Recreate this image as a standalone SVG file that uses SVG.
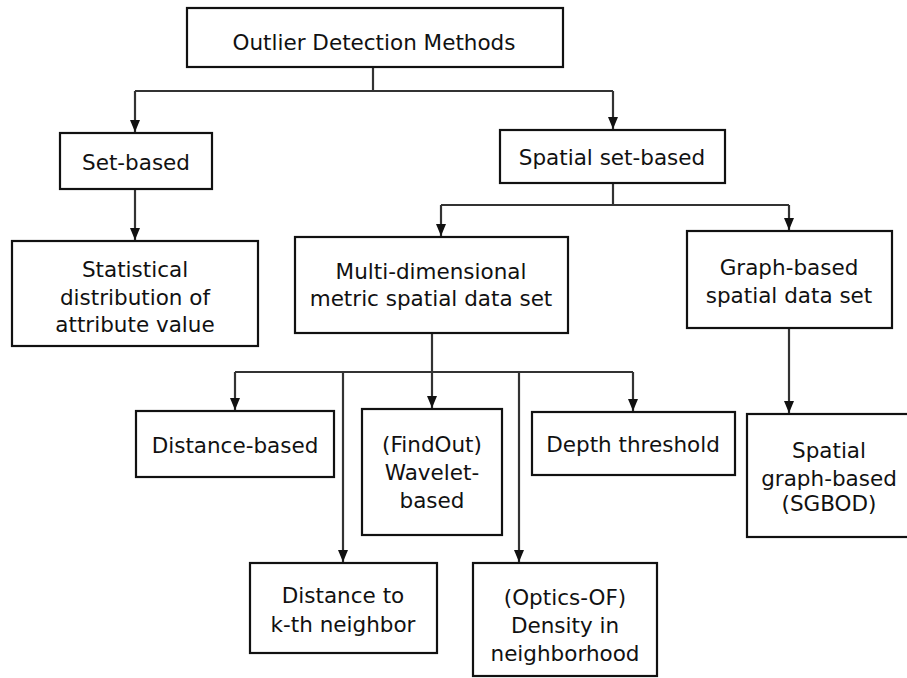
<svg xmlns="http://www.w3.org/2000/svg" width="907" height="678" viewBox="0 0 907 678">
<style>
.box{fill:#fff;stroke:#111;stroke-width:2.2}
.t{font-family:"DejaVu Sans",Verdana,sans-serif;font-size:21.5px;fill:#111;text-anchor:middle}
.c{fill:none;stroke:#333;stroke-width:2.2}
</style>
<defs>
<marker id="ah" viewBox="0 0 12 10" refX="12" refY="5" markerWidth="12" markerHeight="10" markerUnits="userSpaceOnUse" orient="auto">
<path d="M0,0 L12,5 L0,10 Z" fill="#111"/>
</marker>
</defs>
<rect width="907" height="678" fill="#fff"/>
<g id="connectors">
<path class="c" d="M373,67 V91"/>
<path class="c" d="M135,91 H613"/>
<path class="c" d="M135,91 V132" marker-end="url(#ah)"/>
<path class="c" d="M613,91 V129" marker-end="url(#ah)"/>
<path class="c" d="M135,189 V240" marker-end="url(#ah)"/>
<path class="c" d="M613,183 V205"/>
<path class="c" d="M441,205 H789"/>
<path class="c" d="M441,205 V236" marker-end="url(#ah)"/>
<path class="c" d="M789,205 V230" marker-end="url(#ah)"/>
<path class="c" d="M789,328 V413" marker-end="url(#ah)"/>
<path class="c" d="M432,333 V408" marker-end="url(#ah)"/>
<path class="c" d="M235,372 H633"/>
<path class="c" d="M235,372 V410" marker-end="url(#ah)"/>
<path class="c" d="M633,372 V411" marker-end="url(#ah)"/>
<path class="c" d="M343,372 V562" marker-end="url(#ah)"/>
<path class="c" d="M519,372 V562" marker-end="url(#ah)"/>
</g>
<g id="root"><rect class="box" x="187" y="8" width="376" height="59"/><text class="t" x="374" y="50">Outlier Detection Methods</text></g>
<g id="set-based"><rect class="box" x="60" y="133" width="152" height="56"/><text class="t" x="136" y="170">Set-based</text></g>
<g id="spatial-set-based"><rect class="box" x="500" y="130" width="225" height="53"/><text class="t" x="612" y="165">Spatial set-based</text></g>
<g id="statistical"><rect class="box" x="12" y="241" width="246" height="105"/><text class="t" x="135" y="277">Statistical</text><text class="t" x="135" y="305">distribution of</text><text class="t" x="135" y="332">attribute value</text></g>
<g id="multi-dimensional"><rect class="box" x="295" y="237" width="273" height="96"/><text class="t" x="431" y="279">Multi-dimensional</text><text class="t" x="431" y="306">metric spatial data set</text></g>
<g id="graph-based"><rect class="box" x="687" y="231" width="205" height="97"/><text class="t" x="789" y="275">Graph-based</text><text class="t" x="789" y="303">spatial data set</text></g>
<g id="distance-based"><rect class="box" x="136" y="411" width="198" height="66"/><text class="t" x="235" y="453">Distance-based</text></g>
<g id="wavelet"><rect class="box" x="362" y="409" width="140" height="126"/><text class="t" x="432" y="452">(FindOut)</text><text class="t" x="432" y="480">Wavelet-</text><text class="t" x="432" y="508">based</text></g>
<g id="depth"><rect class="box" x="532" y="412" width="203" height="63"/><text class="t" x="633" y="452">Depth threshold</text></g>
<g id="sgbod"><rect class="box" x="747" y="414" width="170" height="123"/><text class="t" x="829" y="458">Spatial</text><text class="t" x="829" y="486">graph-based</text><text class="t" x="829" y="511">(SGBOD)</text></g>
<g id="kth"><rect class="box" x="250" y="563" width="187" height="90"/><text class="t" x="343" y="603">Distance to</text><text class="t" x="343" y="632">k-th neighbor</text></g>
<g id="optics"><rect class="box" x="473" y="563" width="184" height="113"/><text class="t" x="565" y="605">(Optics-OF)</text><text class="t" x="565" y="633">Density in</text><text class="t" x="565" y="661">neighborhood</text></g>
</svg>
